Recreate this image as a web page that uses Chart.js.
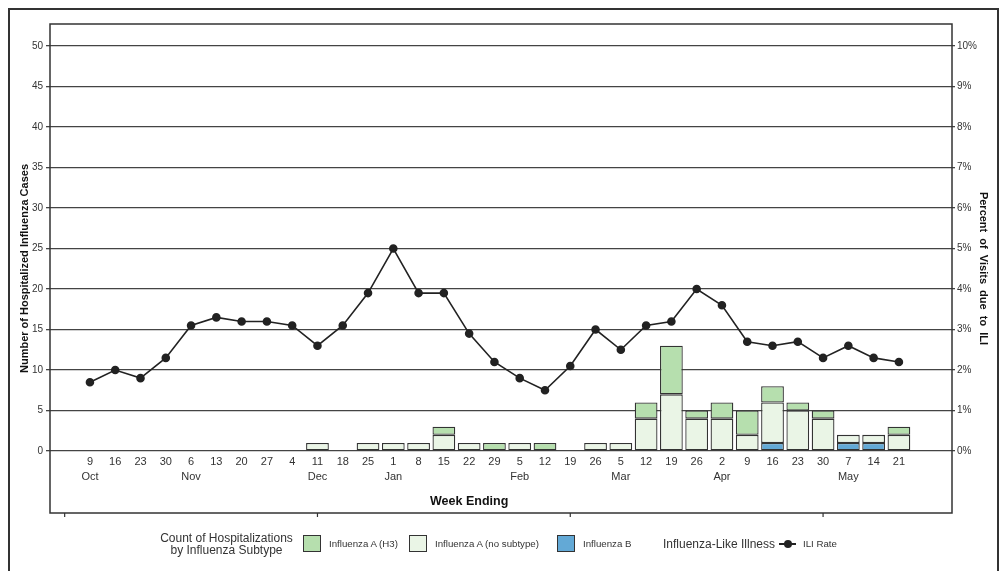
<!DOCTYPE html>
<html>
<head>
<meta charset="utf-8">
<script src="https://cdn.jsdelivr.net/npm/chart.js@4.4.1/dist/chart.umd.min.js"></script>
<style>
  body { margin: 0; background: #fff; font-family: "Liberation Sans", Arial, sans-serif; }
  #wrap { position: relative; width: 1001px; height: 571px; overflow: hidden; }
  #outer { position: absolute; left: 8px; top: 8px; width: 991px; height: 640px; border: 2px solid #333; box-sizing: border-box; }
  #chart { position: absolute; left: 0; top: 0; }
  #legend { position: absolute; left: 160px; top: 531px; height: 25px; display: flex; align-items: center; color: #333; }
  .grp { font-size: 12px; line-height: 12px; text-align: center; white-space: nowrap; }
  .box { flex: none; width: 18px; height: 17px; border: 1.5px solid #333; box-sizing: border-box; margin: 0 8px 0 0; }
  .lbl { flex: none; font-size: 9.7px; white-space: nowrap; }
  .mark { flex: none; position: relative; width: 17px; height: 2px; background: #222; margin: 0 7px 0 0; }
  .mark span { position: absolute; left: 5px; top: -3px; width: 8px; height: 8px; border-radius: 50%; background: #222; }
</style>
</head>
<body>
<div id="wrap">
  <div id="outer"></div>
  <canvas id="chart" width="1001" height="571"></canvas>
  <div id="legend"></div>
</div>
<script>
// week ending labels (day, month shown under first week of the month)
const weekDays = ['9','16','23','30','6','13','20','27','4','11','18','25','1','8','15','22','29',
  '5','12','19','26','5','12','19','26','2','9','16','23','30','7','14','21'];
const monthLabels = ['Oct','','','','Nov','','','','','Dec','','','Jan','','','','',
  'Feb','','','','Mar','','','','Apr','','','','','May','',''];

// hospitalizations by subtype (counts)
const fluH3     = [0,0,0,0,0,0,0,0,0,0,0,0,0,0,1,0,1,0,1,0,0,0,2,6,1,2,3,2,1,1,0,0,1];
const fluNoSub  = [0,0,0,0,0,0,0,0,0,1,0,1,1,1,2,1,0,1,0,0,1,1,4,7,4,4,2,5,5,4,1,1,2];
const fluB      = [0,0,0,0,0,0,0,0,0,0,0,0,0,0,0,0,0,0,0,0,0,0,0,0,0,0,0,1,0,0,1,1,0];

// ILI rate (% of visits)
const iliRate = [1.7,2.0,1.8,2.3,3.1,3.3,3.2,3.2,3.1,2.6,3.1,3.9,5.0,3.9,3.9,2.9,2.2,
  1.8,1.5,2.1,3.0,2.5,3.1,3.2,4.0,3.6,2.7,2.6,2.7,2.3,2.6,2.3,2.2];

const countTicks = [0,5,10,15,20,25,30,35,40,45,50];
const pctTicks = [0,1,2,3,4,5,6,7,8,9,10];
const frameTicks = [-1, 9, 19, 29];

const colH3 = '#b6dfae';
const colNoSub = '#eaf5e6';
const colB = '#63a9d6';
const edge = '#333';

const asPoints = arr => arr.map((v, i) => ({ x: i, y: v === 0 ? null : v }));

function barSet(label, arr, color) {
  return {
    type: 'bar',
    label: label,
    data: asPoints(arr),
    backgroundColor: color,
    borderColor: edge,
    borderWidth: 1.3,
    borderSkipped: false,
    stack: 'flu',
    yAxisID: 'y',
    order: 1,
    categoryPercentage: 0.9,
    barPercentage: 1
  };
}

// frame, bottom marks and x title
const framePlugin = {
  id: 'frame',
  afterDraw(chart) {
    const { ctx, chartArea: a, scales } = chart;
    ctx.save();
    ctx.strokeStyle = edge;
    ctx.lineWidth = 1.5;
    ctx.strokeRect(a.left, a.top, a.right - a.left, a.bottom - a.top);
    ctx.lineWidth = 1.2;
    frameTicks.forEach(v => {
      const px = scales.x.getPixelForValue(v);
      ctx.beginPath();
      ctx.moveTo(px, a.bottom);
      ctx.lineTo(px, a.bottom + 4);
      ctx.stroke();
    });
    ctx.fillStyle = '#111';
    ctx.font = 'bold 12.5px "Liberation Sans", Arial, sans-serif';
    ctx.textAlign = 'center';
    ctx.textBaseline = 'middle';
    ctx.fillText('Week Ending', scales.x.getPixelForValue(15), scales.y.getPixelForValue(0) + 51);
    ctx.restore();
  }
};

const font = 'Liberation Sans, Arial, sans-serif';

new Chart(document.getElementById('chart'), {
  data: {
    datasets: [
      barSet('Influenza B', fluB, colB),
      barSet('Influenza A (no subtype)', fluNoSub, colNoSub),
      barSet('Influenza A (H3)', fluH3, colH3),
      {
        type: 'line',
        label: 'ILI Rate',
        data: iliRate.map((v, i) => ({ x: i, y: v })),
        borderColor: '#222',
        borderWidth: 1.6,
        pointRadius: 3.5,
        pointBackgroundColor: '#222',
        pointBorderColor: '#222',
        tension: 0,
        yAxisID: 'y1',
        order: 0
      }
    ]
  },
  options: {
    responsive: false,
    animation: false,
    layout: { padding: { top: 24, bottom: 58, left: 0, right: 0 } },
    plugins: { legend: { display: false }, tooltip: { enabled: false } },
    scales: {
      x: {
        type: 'linear',
        position: { y: 0 },
        min: -1.58,
        max: 34.1,
        offset: false,
        stacked: true,
        grid: { display: false, drawTicks: false },
        border: { display: false },
        afterBuildTicks: s => { s.ticks = weekDays.map((d, i) => ({ value: i })); },
        ticks: {
          autoSkip: false,
          maxRotation: 0,
          padding: 4,
          color: '#333',
          font: { family: font, size: 11, lineHeight: 1.3 },
          callback: v => [weekDays[v], monthLabels[v]]
        }
      },
      y: {
        position: 'left',
        min: -7.65,
        max: 52.72,
        stacked: true,
        afterBuildTicks: s => { s.ticks = countTicks.map(v => ({ value: v })); },
        afterFit: s => { s.width = 50; },
        grid: { color: '#444', lineWidth: 1.3, drawTicks: true, tickLength: 4 },
        border: { display: false },
        ticks: { color: '#333', padding: 3, font: { family: font, size: 10 } },
        title: {
          display: true,
          text: 'Number of Hospitalized Influenza Cases',
          color: '#111',
          font: { family: font, size: 11, weight: 'bold' },
          padding: { top: 18, bottom: 0 }
        }
      },
      y1: {
        position: 'right',
        min: -1.53,
        max: 10.544,
        afterBuildTicks: s => { s.ticks = pctTicks.map(v => ({ value: v })); },
        afterFit: s => { s.width = 49; },
        grid: { drawOnChartArea: false, color: '#444', lineWidth: 1.3, drawTicks: true, tickLength: 3 },
        border: { display: false },
        ticks: { color: '#333', padding: 2, font: { family: font, size: 10 }, callback: v => v + '%' },
        title: {
          display: true,
          text: 'Percent  of  Visits  due  to  ILI',
          color: '#111',
          font: { family: font, size: 11, weight: 'bold' },
          padding: { top: 11, bottom: 0 }
        }
      }
    }
  },
  plugins: [framePlugin]
});

// legend, built from the same names and colours
const legendSubtypes = [
  ['Influenza A (H3)', colH3, 80],
  ['Influenza A (no subtype)', colNoSub, 122],
  ['Influenza B', colB, 76]
];
const leg = document.getElementById('legend');
let html = '<div class="grp" style="width:133px;margin-right:10px">Count of Hospitalizations<br>by Influenza Subtype</div>';
legendSubtypes.forEach(([name, c, w]) => {
  html += '<div class="box" style="background:' + c + '"></div>';
  html += '<div class="lbl" style="width:' + w + 'px">' + name + '</div>';
});
html += '<div class="grp" style="width:120px">Influenza-Like Illness</div>';
html += '<div class="mark"><span></span></div><div class="lbl">ILI Rate</div>';
leg.innerHTML = html;
</script>
</body>
</html>
